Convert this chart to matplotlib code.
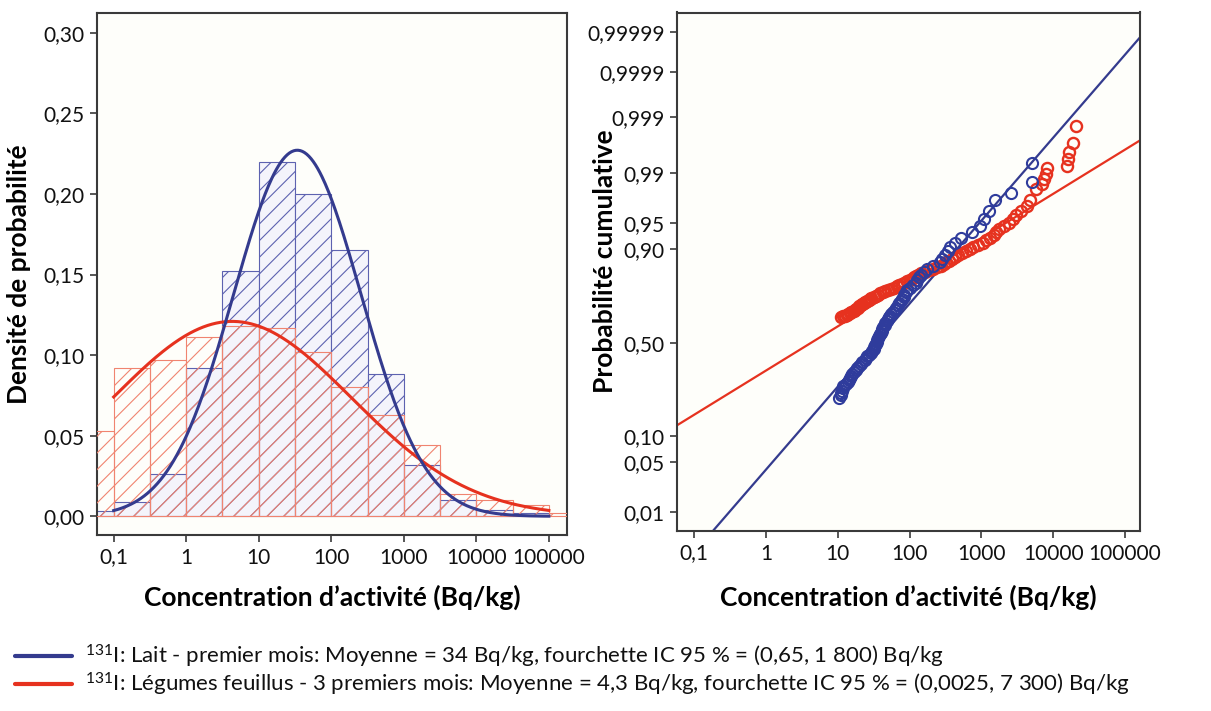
import numpy as np
import matplotlib
matplotlib.use("Agg")
import matplotlib.pyplot as plt
from matplotlib.ticker import FixedLocator, NullLocator
from matplotlib.lines import Line2D
from statistics import NormalDist

plt.rcParams['font.family'] = ['Lato', 'DejaVu Sans']
plt.rcParams['hatch.linewidth'] = 0.8

# Histogram: half-decade bins (Bq/kg)
bin_edges = [0.0316, 0.1, 0.316, 1, 3.16, 10, 31.6, 100, 316, 1000, 3162, 10000, 31623, 100000, 316228]
milk_density = [0.003, 0.009, 0.026, 0.092, 0.152, 0.220, 0.200, 0.165, 0.088, 0.032, 0.010, 0.004, 0.002]
veg_density = [0.053, 0.092, 0.097, 0.111, 0.118, 0.117, 0.102, 0.080, 0.063, 0.044, 0.014, 0.010, 0.007, 0.002]

# Lognormal fits as given in the legend: mean, 95 % interval
milk_fit = (34, 0.65, 1800)
veg_fit = (4.3, 0.0025, 7300)

# Probability plot points (concentration, cumulative probability)
milk_conc = [10.5, 11, 11, 11.5, 12, 12, 13, 14, 14.5, 15,
             15.5, 16, 17, 18, 18.5, 19.5, 21, 22, 24, 25,
             26, 27.5, 29, 30, 32, 32, 33, 34, 35, 35,
             36, 38, 39, 40, 41, 42, 43, 45, 46, 48,
             50, 51, 54, 56, 59, 62, 65, 69, 72, 76,
             79, 83, 85, 89, 93, 102, 112, 123, 129, 135,
             145, 158, 178, 214, 263, 288, 316, 339, 372, 427,
             525, 741, 955, 1100, 1260, 1550, 2570, 5000, 5000]
milk_prob = [0.225, 0.235, 0.245, 0.255, 0.265, 0.275, 0.285, 0.295, 0.305, 0.315,
             0.325, 0.335, 0.345, 0.355, 0.365, 0.375, 0.385, 0.395, 0.405, 0.415,
             0.425, 0.435, 0.445, 0.455, 0.465, 0.475, 0.485, 0.495, 0.505, 0.515,
             0.525, 0.535, 0.545, 0.555, 0.565, 0.575, 0.585, 0.595, 0.605, 0.615,
             0.625, 0.635, 0.645, 0.655, 0.665, 0.675, 0.685, 0.695, 0.705, 0.715,
             0.725, 0.735, 0.745, 0.755, 0.765, 0.775, 0.785, 0.795, 0.805, 0.815,
             0.825, 0.835, 0.845, 0.855, 0.865, 0.875, 0.885, 0.895, 0.905, 0.915,
             0.925, 0.935, 0.945, 0.955, 0.965, 0.975, 0.980, 0.9864, 0.9932]

veg_conc = [11.0, 11.8, 12.6, 13.5, 14.1, 14.8, 15.5, 16.6, 17.4, 18.2,
            19.1, 20.0, 20.9, 21.9, 22.9, 24.0, 25.7, 26.9, 28.2, 29.5,
            31.6, 33.9, 36.3, 38.9, 42.7, 45.7, 50.1, 55.0, 60.3, 66.1,
            72.4, 77.6, 85.1, 93.3, 100, 107, 115, 123, 132, 145,
            166, 186, 214, 245, 275, 302, 324, 355, 389, 427,
            479, 537, 603, 692, 776, 912, 1072, 1175, 1318, 1479,
            1622, 1778, 2089, 2455, 2754, 3090, 3548, 4365, 4786, 5754,
            7079, 7586, 7943, 8318, 15490, 16218, 16596, 18621, 20893]
veg_prob = [0.635, 0.640, 0.645, 0.650, 0.655, 0.660, 0.665, 0.670, 0.675, 0.680,
            0.685, 0.690, 0.695, 0.700, 0.705, 0.710, 0.715, 0.720, 0.725, 0.730,
            0.735, 0.740, 0.745, 0.750, 0.755, 0.760, 0.765, 0.770, 0.775, 0.780,
            0.785, 0.790, 0.795, 0.800, 0.805, 0.810, 0.815, 0.820, 0.825, 0.830,
            0.835, 0.840, 0.845, 0.850, 0.855, 0.860, 0.865, 0.870, 0.875, 0.880,
            0.885, 0.890, 0.895, 0.900, 0.905, 0.910, 0.915, 0.920, 0.925, 0.930,
            0.935, 0.940, 0.945, 0.950, 0.955, 0.960, 0.965, 0.970, 0.975, 0.9826,
            0.9854, 0.9878, 0.9898, 0.9916, 0.9922, 0.9941, 0.9956, 0.9969, 0.9985]

conc_ticks = [0.1, 1, 10, 100, 1000, 10000, 100000]
conc_labels = ['0,1', '1', '10', '100', '1000', '10000', '100000']
density_ticks = [0.0, 0.05, 0.10, 0.15, 0.20, 0.25, 0.30]
density_labels = ['0,00', '0,05', '0,10', '0,15', '0,20', '0,25', '0,30']
prob_ticks = [0.01, 0.05, 0.10, 0.50, 0.90, 0.95, 0.99, 0.999, 0.9999, 0.99999]
prob_labels = ['0,01', '0,05', '0,10', '0,50', '0,90', '0,95', '0,99', '0,999', '0,9999', '0,99999']

legend_labels = [
    r'$\mathregular{^{131}}$I: Lait - premier mois: Moyenne = 34 Bq/kg, fourchette IC 95 % = (0,65, 1 800) Bq/kg',
    r'$\mathregular{^{131}}$I: Légumes feuillus - 3 premiers mois: Moyenne = 4,3 Bq/kg, fourchette IC 95 % = (0,0025, 7 300) Bq/kg',
]

BLUE = '#343b8e'
RED = '#e6321f'
BLUE_PT = '#2f3c9c'
SPINE = '#3a3a3a'


def fit_params(fit):
    mean, lo, hi = fit
    mu = np.log10(mean)
    sigma = (np.log10(hi) - np.log10(lo)) / (2 * 1.96)
    return mu, sigma


std = NormalDist()
ppf = np.vectorize(lambda p: std.inv_cdf(min(max(p, 1e-12), 1 - 1e-12)) if np.isfinite(p) else np.nan,
                   otypes=[float])
cdf = np.vectorize(lambda z: std.cdf(z) if np.isfinite(z) else np.nan, otypes=[float])

W, H = 1211, 711
fig = plt.figure(figsize=(W / 100, H / 100), dpi=100)
fig.patch.set_facecolor('white')


def px_axes(x0, y0, x1, y1):
    return fig.add_axes([x0 / W, 1 - y1 / H, (x1 - x0) / W, (y1 - y0) / H])


def style(ax):
    ax.set_facecolor('#fefefa')
    for s in ax.spines.values():
        s.set_color(SPINE)
        s.set_linewidth(1.5)
    ax.tick_params(direction='out', length=5, width=1.2, color=SPINE, labelsize=15,
                   labelcolor='#111111', pad=4)


# ---- left: histogram + density fits
ax1 = px_axes(97, 12.5, 567, 535)
style(ax1)
ax1.set_xscale('log')
edges = np.array(bin_edges)
n_milk = len(milk_density)
ax1.bar(edges[:n_milk], milk_density, width=np.diff(edges)[:n_milk],
        align='edge', facecolor='#f4f4fb', edgecolor='#5d62b0', hatch='//', linewidth=0.8, zorder=2)
ax1.bar(edges[:-1], veg_density, width=np.diff(edges), align='edge',
        facecolor='none', edgecolor='#f08470', hatch='//', linewidth=0.8, zorder=3)

xc = np.logspace(-1, 5, 400)
for fit, col in [(veg_fit, RED), (milk_fit, BLUE)]:
    mu, sigma = fit_params(fit)
    dens = np.array([NormalDist(mu, sigma).pdf(v) for v in np.log10(xc)]) * 0.5
    ax1.plot(xc, dens, color=col, lw=2.2, zorder=4)

ax1.set_xlim(10 ** -1.23, 10 ** 5.25)
ax1.set_ylim(-0.0116, 0.3126)
ax1.xaxis.set_major_locator(FixedLocator(conc_ticks))
ax1.xaxis.set_minor_locator(NullLocator())
ax1.set_xticklabels(conc_labels)
ax1.set_yticks(density_ticks)
ax1.set_yticklabels(density_labels)
ax1.set_xlabel('Concentration d’activité (Bq/kg)', fontsize=19, fontweight='bold')
ax1.set_ylabel('Densité de probabilité', fontsize=19, fontweight='bold')
ax1.xaxis.set_label_coords(0.5, -0.095)
ax1.yaxis.set_label_coords(-0.14, 0.5)

# ---- right: normal probability plot
ax2 = px_axes(677, 12.5, 1140, 531)
style(ax2)
ax2.set_xscale('log')
ax2.set_yscale('function', functions=(ppf, cdf))
xl = np.logspace(-1.3, 5.3, 200)
for fit, col in [(veg_fit, RED), (milk_fit, BLUE)]:
    mu, sigma = fit_params(fit)
    pl = np.array([NormalDist(mu, sigma).cdf(v) for v in np.log10(xl)])
    ax2.plot(xl, pl, color=col, lw=1.6, zorder=2)
ax2.plot(veg_conc, veg_prob, 'o', mfc='none', mec=RED, mew=1.7, ms=8, zorder=3)
ax2.plot(milk_conc, milk_prob, 'o', mfc='none', mec=BLUE_PT, mew=1.5, ms=8, zorder=4)

ax2.set_xlim(10 ** -1.238, 10 ** 5.21)
ax2.set_ylim(std.cdf(-2.585), std.cdf(4.53))
ax2.xaxis.set_major_locator(FixedLocator(conc_ticks))
ax2.xaxis.set_minor_locator(NullLocator())
ax2.set_xticklabels(conc_labels)
ax2.yaxis.set_major_locator(FixedLocator(prob_ticks))
ax2.yaxis.set_minor_locator(NullLocator())
ax2.set_yticklabels(prob_labels)
ax2.set_xlabel('Concentration d’activité (Bq/kg)', fontsize=19, fontweight='bold')
ax2.set_ylabel('Probabilité cumulative', fontsize=19, fontweight='bold')
ax2.xaxis.set_label_coords(0.5, -0.103)
ax2.yaxis.set_label_coords(-0.13, 0.52)

# ---- legend below
for ypx, col, lab in [(656, BLUE, legend_labels[0]), (684, RED, legend_labels[1])]:
    yf = 1 - ypx / H
    fig.add_artist(Line2D([15 / W, 72 / W], [yf, yf], color=col, lw=3, solid_capstyle='round'))
    fig.text(85 / W, yf, lab, fontsize=16, va='center', ha='left', color='#111111')

fig.savefig('out.png', dpi=100, facecolor=fig.get_facecolor())
